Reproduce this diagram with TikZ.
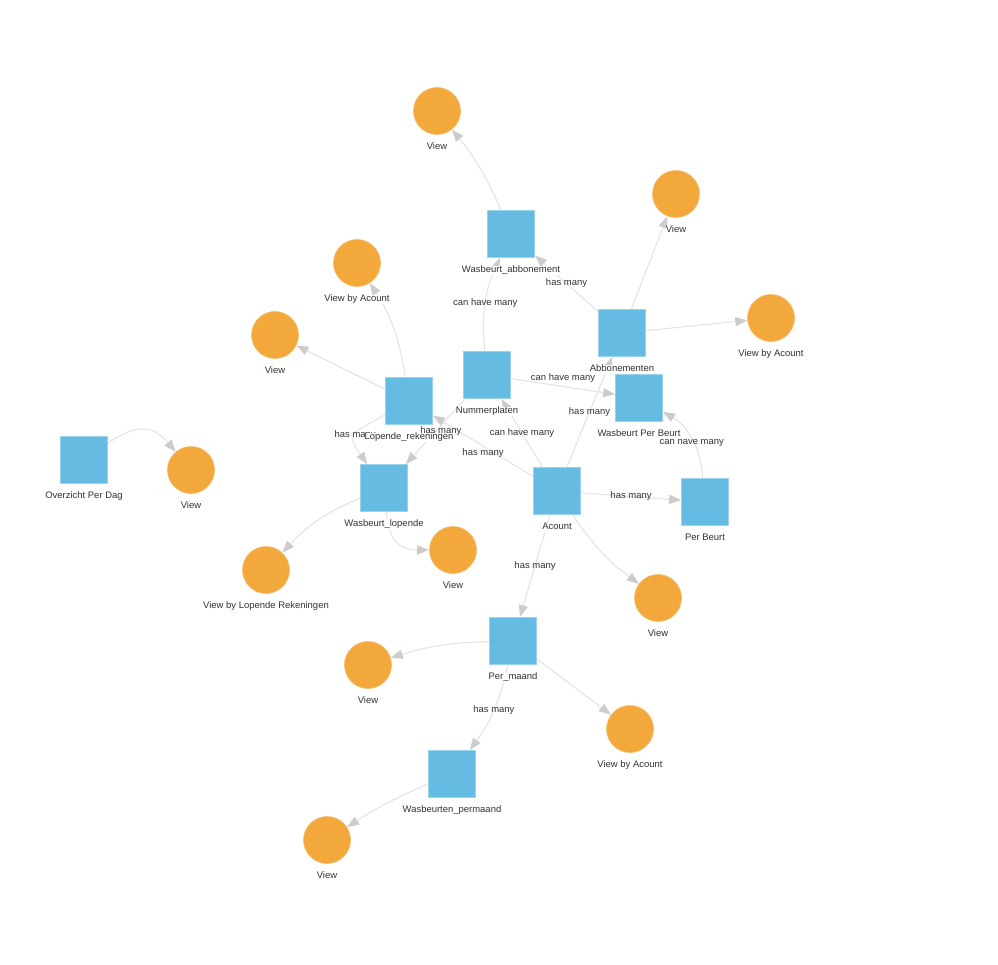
\documentclass[tikz,border=0pt]{standalone}
\usepackage{fontspec}
\setmainfont{Liberation Sans}
\usetikzlibrary{arrows.meta}
\pgfdeclarelayer{edges}
\pgfsetlayers{edges,main}
\definecolor{tblblue}{HTML}{66BBE2}
\definecolor{vieworange}{HTML}{F3A83B}
\definecolor{linkgray}{HTML}{E3E3E3}
\definecolor{tipgray}{HTML}{CCCCCC}
\definecolor{txtgray}{HTML}{333333}

\begin{document}
\begin{tikzpicture}[x=0.75pt,y=-0.75pt,
  nlbl/.style={font=\fontsize{7.1}{8.5}\selectfont,text=txtgray,fill=white,inner sep=0pt,text height=5.2pt,text depth=1.6pt,label distance=5.7pt},
  elbl/.style={font=\fontsize{7.1}{8.5}\selectfont,text=txtgray,inner sep=1pt},
  tbl/.style={rectangle,fill=tblblue,draw=tblblue!65!white,line width=0.6pt,minimum size=35.25pt,inner sep=0pt,label={[nlbl]below:#1}},
  vw/.style={circle,fill=vieworange,draw=vieworange!75!white,line width=0.5pt,minimum size=35.25pt,inner sep=0pt,label={[nlbl]below:#1}},
  rel/.style={draw=linkgray,line width=0.8pt,-{Triangle[length=9pt,width=6.8pt,color=tipgray,fill=tipgray]}}]
\useasboundingbox (0,0) rectangle (998,964);

\node[tbl=Wasbeurt\_abbonement] (wabbo) at (511,234) {};
\node[tbl=Abbonementen] (abbo) at (622,333) {};
\node[tbl=Nummerplaten] (nummer) at (487,375) {};
\node[tbl=Wasbeurt Per Beurt] (wpb) at (639,398) {};
\node[tbl=Lopende\_rekeningen] (lopende) at (409,401) {};
\node[tbl=Overzicht Per Dag] (overzicht) at (84,460) {};
\node[tbl=Wasbeurt\_lopende] (wlopende) at (384,488) {};
\node[tbl=Acount] (acount) at (557,491) {};
\node[tbl=Per Beurt] (perbeurt) at (705,502) {};
\node[tbl=Per\_maand] (permaand) at (513,641) {};
\node[tbl=Wasbeurten\_permaand] (wpm) at (452,774) {};

\node[vw=View] (vabbo) at (437,111) {};
\node[vw=View] (vabbonem) at (676,194) {};
\node[vw=View by Acount] (vbaabbo) at (771,318) {};
\node[vw=View by Acount] (vbalop) at (357,263) {};
\node[vw=View] (vlop) at (275,335) {};
\node[vw=View] (voverzicht) at (191,470) {};
\node[vw=View by Lopende Rekeningen] (vblr) at (266,570) {};
\node[vw=View] (vwlop) at (453,550) {};
\node[vw=View] (vacount) at (658,598) {};
\node[vw=View] (vpermaand) at (368,665) {};
\node[vw=View by Acount] (vbapm) at (630,729) {};
\node[vw=View] (vwpm) at (327,840) {};

\begin{pgfonlayer}{edges}
\draw[rel] (wabbo) to[bend right=8] (vabbo);
\draw[rel] (abbo) -- (vabbonem);
\draw[rel] (abbo) -- (vbaabbo);
\draw[rel] (abbo) -- node[elbl]{has many} (wabbo);
\draw[rel] (nummer) to[bend left=15] node[elbl]{can have many} (wabbo);
\draw[rel] (nummer) -- node[elbl,yshift=6pt]{can have many} (wpb);
\draw[rel] (acount) -- node[elbl]{has many} (abbo);
\draw[rel] (perbeurt) to[out=95,in=-30] node[elbl,yshift=-2pt]{can have many} (wpb);
\draw[rel] (acount) -- node[elbl]{has many} (perbeurt);
\draw[rel] (acount) -- node[elbl]{can have many} (nummer);
\draw[rel] (acount) -- node[elbl,yshift=-5pt]{has many} (lopende);
\draw[rel] (nummer) -- node[elbl,xshift=4pt]{has many} (wlopende);
\draw[rel] (lopende) to[out=210,in=125,looseness=1.9] node[elbl]{has many} (wlopende);
\draw[rel] (lopende) to[bend right=12] (vbalop);
\draw[rel] (lopende) -- (vlop);
\draw[rel] (overzicht) to[out=35,in=130,looseness=1.3] (voverzicht);
\draw[rel] (wlopende) to[bend right=12] (vblr);
\draw[rel] (wlopende) to[out=-85,in=180,looseness=1.3] (vwlop);
\draw[rel] (acount) to[bend right=10] (vacount);
\draw[rel] (acount) -- node[elbl]{has many} (permaand);
\draw[rel] (permaand) to[bend right=8] (vpermaand);
\draw[rel] (permaand) -- (vbapm);
\draw[rel] (permaand) to[bend left=12] node[elbl]{has many} (wpm);
\draw[rel] (wpm) to[bend right=5] (vwpm);
\end{pgfonlayer}

\end{tikzpicture}
\end{document}
